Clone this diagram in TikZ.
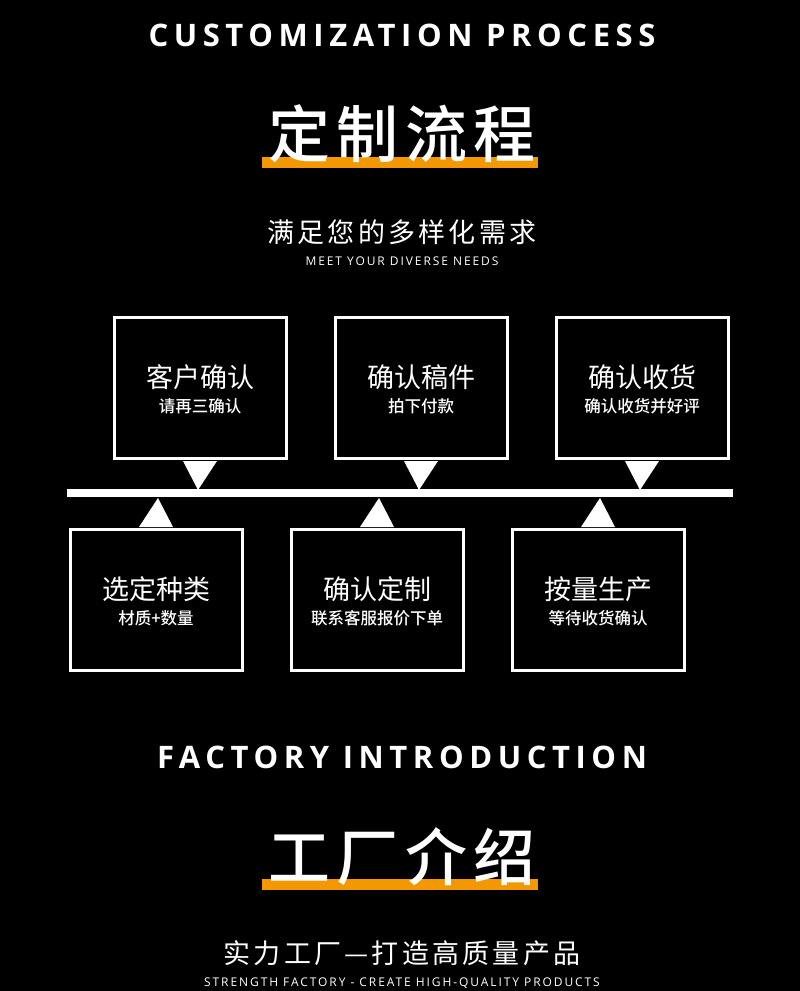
\documentclass[tikz,border=0pt]{standalone}
\usepackage{fontspec}
\newfontfamily\cjk{Noto Sans CJK SC}
\newfontfamily\cjkS[LetterSpace=12]{Noto Sans CJK SC}
\newfontfamily\cjkB[LetterSpace=10]{Noto Sans CJK SC Medium}
\newfontfamily\cjkM{Noto Sans CJK SC Medium}
\newfontfamily\enB[LetterSpace=18]{Open Sans Bold}
\newfontfamily\enS[LetterSpace=16]{Open Sans}
\begin{document}
\begin{tikzpicture}[x=1pt,y=-1pt,
  txt/.style={text=white,inner sep=0pt,anchor=center},
  box/.style={draw=white,line width=3pt,minimum width=172pt,minimum height=141pt,inner sep=0pt}]
\fill[black] (0,0) rectangle (800,991);
\useasboundingbox (0,0) rectangle (800,991);
\node[txt,font=\enB\fontsize{31}{31}\selectfont] (t1) at (402,35) {CUSTOMIZATION PROCESS};
\fill[color={rgb,255:red,243;green,152;blue,0}] (262,157) rectangle (538,168);
\node[txt,font=\cjkB\fontsize{62}{62}\selectfont] (t2) at (402,134) {定制流程};
\node[txt,font=\cjkS\fontsize{27}{27}\selectfont] (t3) at (402,232) {满足您的多样化需求};
\node[txt,font=\enS\fontsize{12}{12}\selectfont] (t4) at (402,261) {MEET YOUR DIVERSE NEEDS};
\fill[white] (67,489) rectangle (733,497);
\foreach \n/\cx/\a/\b in {a/200/客户确认/请再三确认,b/421/确认稿件/拍下付款,c/642/确认收货/确认收货并好评}{
  \node[box] (\n) at (\cx,388) {};
  \node[txt,font=\cjk\fontsize{27}{27}\selectfont] at (\cx,377) {\a};
  \node[txt,font=\cjkM\fontsize{16.5}{16.5}\selectfont] at (\cx,406) {\b};
  \fill[white] (\cx-17,461) -- (\cx+17,461) -- (\cx-2,490) -- cycle;
}
\foreach \n/\cx/\a/\b in {d/156/选定种类/材质+数量,e/377/确认定制/联系客服报价下单,f/598/按量生产/等待收货确认}{
  \node[box] (\n) at (\cx,600) {};
  \node[txt,font=\cjk\fontsize{27}{27}\selectfont] at (\cx,589) {\a};
  \node[txt,font=\cjkM\fontsize{16.5}{16.5}\selectfont] at (\cx,618) {\b};
  \fill[white] (\cx-17,527) -- (\cx+17,527) -- (\cx+2,498) -- cycle;
}
\node[txt,font=\enB\fontsize{31}{31}\selectfont] (t5) at (402,757) {FACTORY INTRODUCTION};
\fill[color={rgb,255:red,243;green,152;blue,0}] (262,879) rectangle (538,890);
\node[txt,font=\cjkB\fontsize{62}{62}\selectfont] (t6) at (402,857) {工厂介绍};
\node[txt,font=\cjkS\fontsize{27}{27}\selectfont] (t7) at (402,953) {实力工厂—打造高质量产品};
\node[txt,font=\enS\fontsize{12}{12}\selectfont] (t8) at (402,983) {STRENGTH FACTORY - CREATE HIGH-QUALITY PRODUCTS};
\end{tikzpicture}
\end{document}
